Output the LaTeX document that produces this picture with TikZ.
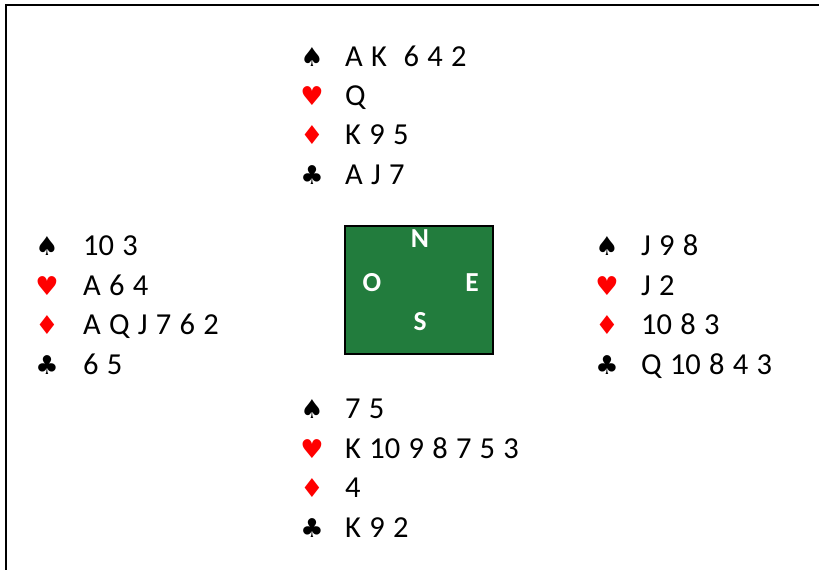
\documentclass[tikz,border=0pt]{standalone}
\usepackage{fontspec}
\setmainfont{Carlito}[WordSpace=1.2]
\newfontfamily\suitfont{DejaVu Sans}
\definecolor{tablegreen}{HTML}{227C3D}
\definecolor{suitred}{HTML}{FF0000}
\tikzset{
  cards/.style={anchor=base west, inner sep=0pt, font=\fontsize{30.5}{36}\selectfont},
  suit/.style={anchor=base, inner sep=0pt, font=\suitfont\fontsize{26}{30}\selectfont},
  blacksuit/.style={suit, text=black},
  redsuit/.style={suit, text=suitred},
  compass/.style={anchor=center, inner sep=0pt, text=white, font=\bfseries\fontsize{27.5}{32}\selectfont},
  table/.style={draw=black, line width=2pt, fill=tablegreen},
  frame/.style={line width=2pt, line cap=rect}
}
\begin{document}
\begin{tikzpicture}[x=1pt, y=-1pt]
\useasboundingbox (0,0) rectangle (819,570);
% frame
\coordinate (fbl) at (6,571);
\coordinate (ftl) at (6,5);
\coordinate (ftr) at (820,5);
\draw[frame] (fbl) -- (ftl) -- (ftr);
% table
\node[table, minimum width=148pt, minimum height=128pt, inner sep=0pt] (tbl) at (419,290) {};
\node[compass] (cn) at (420,239) {N};
\node[compass] (co) at (372,283) {O};
\node[compass] (ce) at (472,283) {E};
\node[compass] (cs) at (420,322) {S};
% North
\node[blacksuit] (ns) at (312,66) {♠};
\node[cards] (nst) at (345,66) {A K\ \ 6 4 2};
\node[redsuit] (nh) at (312,105.3) {♥};
\node[cards] (nht) at (345,105.3) {Q};
\node[redsuit] (nd) at (312,144.6) {♦};
\node[cards] (ndt) at (345,144.6) {K 9 5};
\node[blacksuit] (nc) at (312,184) {♣};
\node[cards] (nct) at (345,184) {A J 7};
% West
\node[blacksuit] (ws) at (47,255) {♠};
\node[cards] (wst) at (83,255) {10 3};
\node[redsuit] (wh) at (47,295) {♥};
\node[cards] (wht) at (83,295) {A 6 4};
\node[redsuit] (wd) at (47,334.5) {♦};
\node[cards] (wdt) at (83,334.5) {A Q J 7 6 2};
\node[blacksuit] (wc) at (47,374) {♣};
\node[cards] (wct) at (83,374) {6 5};
% East
\node[blacksuit] (es) at (607,255) {♠};
\node[cards] (est) at (641,255) {J 9 8};
\node[redsuit] (eh) at (607,295) {♥};
\node[cards] (eht) at (641,295) {J 2};
\node[redsuit] (ed) at (607,334.5) {♦};
\node[cards] (edt) at (641,334.5) {10 8 3};
\node[blacksuit] (ec) at (607,374) {♣};
\node[cards] (ect) at (641,374) {Q 10 8 4 3};
% South
\node[blacksuit] (ss) at (312,418) {♠};
\node[cards] (sst) at (345,418) {7 5};
\node[redsuit] (sh) at (312,458) {♥};
\node[cards] (sht) at (345,458) {K 10 9 8 7 5 3};
\node[redsuit] (sd) at (312,497) {♦};
\node[cards] (sdt) at (345,497) {4};
\node[blacksuit] (sc) at (312,537) {♣};
\node[cards] (sct) at (345,537) {K 9 2};
\end{tikzpicture}
\end{document}
